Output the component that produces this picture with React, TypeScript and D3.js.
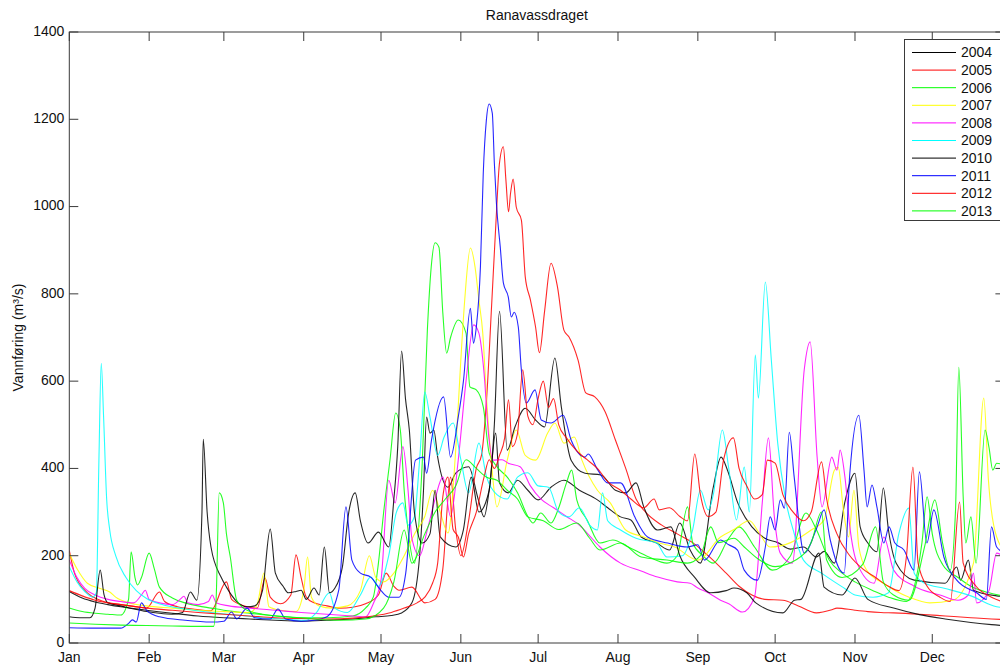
import React from 'react';
import * as d3 from 'd3';

const years = ['2004', '2005', '2006', '2007', '2008', '2009', '2010', '2011', '2012', '2013'];
const colors = ['#000000', '#ff0000', '#00ff00', '#ffff00', '#ff00ff', '#00ffff', '#000000', '#0000ff', '#ff0000', '#00ff00'];
const monthLabels = ['Jan', 'Feb', 'Mar', 'Apr', 'May', 'Jun', 'Jul', 'Aug', 'Sep', 'Oct', 'Nov', 'Dec'];
const monthStartDays = [0, 31, 60, 91, 121, 152, 182, 213, 244, 274, 305, 335];
const yTicks = [0, 200, 400, 600, 800, 1000, 1200, 1400];

// [day of year, discharge m3/s]
const q2004: [number, number][] = [
  [0, 118], [5, 103], [10, 94], [15, 88], [20, 83], [25, 79], [30, 75], [40, 68], [50, 62], [60, 58], [70, 55], [80, 52], [90, 50],
  [100, 52], [110, 55], [119, 60], [125, 63], [129, 69], [133, 92], [136, 200], [137.5, 350], [138.7, 518], [140, 481], [141.5, 488],
  [143, 426], [147, 357], [150, 389], [155, 404], [158.8, 328], [161, 289], [163, 350], [165.5, 481], [167, 367], [170.4, 344],
  [174, 373], [178, 350], [182, 328], [187, 357], [192, 373], [198, 350], [205, 328], [209, 310], [214, 289], [218, 282], [222, 243],
  [228, 229], [233, 213], [237, 275], [241, 213], [245, 183], [250, 357], [253, 426], [255.5, 396], [259.5, 321], [265, 266],
  [270, 240], [275, 230], [280, 215], [285, 220], [290, 197], [293, 210], [297, 183], [301, 321], [305, 389], [307, 266], [310, 229],
  [313.5, 209], [316, 355], [318, 259], [321, 183], [328, 144], [340, 137], [344.5, 174], [346, 144], [349, 190], [351, 121],
  [360, 108], [365, 105],
];
const q2005: [number, number][] = [
  [0, 212], [2, 160], [4, 135], [7, 115], [11, 100], [15, 92], [20, 88], [25, 84], [30, 80], [35, 117], [37, 95], [42, 83], [48, 78],
  [55, 74], [61, 140], [63, 100], [68, 85], [73, 80], [76, 149], [78, 105], [82, 90], [86, 110], [88, 202], [90, 150], [92, 105],
  [95, 92], [100, 85], [105, 80], [110, 82], [115, 90], [120, 110], [123, 160], [126, 130], [128, 121], [133, 128], [138, 92],
  [142, 100], [145, 170], [148, 380], [150, 260], [152, 200], [155, 280], [158, 400], [160, 430], [162, 560], [164, 780], [165.5, 950],
  [167, 1100], [168.5, 1137], [169.5, 1060], [170.5, 988], [171.3, 1031], [172.3, 1063], [173.5, 999], [175.5, 969], [177, 839],
  [179, 786], [181, 724], [182.5, 665], [184.5, 760], [187, 870], [189.5, 816], [192, 717], [194, 701], [197.5, 648], [200.5, 573],
  [204, 564], [208, 530], [212, 465], [216, 400], [220, 330], [224, 298], [230, 270], [236, 250], [242, 230], [248, 200], [255, 160],
  [260, 130], [265, 110], [270, 100], [277, 98], [283, 85], [290, 69], [296, 76], [298, 80], [305, 75], [310, 72], [315, 70],
  [320, 69], [330, 66], [340, 62], [350, 58], [358, 55], [365, 53],
];
const q2006: [number, number][] = [
  [0, 80], [5, 72], [10, 68], [15, 66], [20, 64], [23, 100], [24, 209], [25.5, 150], [26.5, 133], [28, 150], [31, 206], [33, 170],
  [35, 128], [40, 103], [45, 92], [50, 85], [55, 80], [60, 75], [70, 68], [80, 62], [90, 58], [100, 58], [110, 62], [115, 80],
  [118, 105], [120, 183], [122, 298], [124.5, 420], [126.7, 527], [128.5, 488], [130, 350], [131.5, 259], [134, 183], [137, 412],
  [139, 717], [140.5, 862], [142, 917], [143.5, 907], [145, 756], [146.5, 664], [148, 700], [151, 740], [154, 710], [155.5, 587],
  [158, 580], [160.7, 541], [163, 435], [166, 404], [170, 380], [174, 344], [178, 290], [180, 275], [183, 298], [187, 275], [190, 310],
  [193, 367], [195, 396], [197, 328], [201, 282], [206, 229], [211, 236], [217, 220], [225, 197], [232, 183], [236, 200], [240, 312],
  [242, 229], [246, 200], [250, 183], [256, 240], [260, 266], [266, 220], [273, 167], [280, 200], [286, 298], [290, 260], [295, 190],
  [300, 160], [305, 140], [312, 120], [318, 105], [325, 95], [331, 230], [333, 335], [335, 250], [339, 180], [345, 150], [350, 130],
  [357, 115], [365, 105],
];
const q2007: [number, number][] = [
  [0, 205], [3, 170], [7, 137], [12, 125], [15.7, 117], [18, 105], [23, 92], [30, 85], [40, 80], [50, 75], [60, 72], [70, 70],
  [73, 90], [75.6, 160], [77.5, 83], [82, 75], [88, 72], [91, 120], [92.5, 197], [94, 105], [97, 85], [102, 80], [108, 85], [113, 120],
  [116.5, 200], [119, 150], [122, 140], [126, 160], [130, 200], [134, 250], [138, 290], [141, 350], [144, 300], [147, 252], [150, 442],
  [152, 650], [153.5, 786], [155.7, 905], [157.5, 862], [159, 786], [160.5, 710], [162, 557], [164, 404], [166, 312], [170, 419],
  [173.5, 488], [177, 430], [181, 419], [185.7, 481], [188.5, 504], [192, 458], [196, 472], [199, 419], [205, 350], [210, 321],
  [216, 259], [223, 243], [229, 229], [235, 220], [244, 190], [252.8, 243], [258, 260], [264, 280], [268, 250], [272, 220], [280, 230],
  [288, 259], [293, 282], [297, 396], [298.5, 403], [300.5, 305], [302.5, 243], [304.6, 350], [306.5, 220], [309.5, 167], [316, 137],
  [326, 105], [334, 92], [343, 98], [351, 183], [355, 561], [356.8, 373], [360, 243], [365, 200],
];
const q2008: [number, number][] = [
  [0, 190], [3, 150], [6, 125], [10, 110], [15, 100], [20, 95], [25, 92], [28, 110], [29.5, 121], [31, 100], [35, 92], [40, 88],
  [43, 100], [44.5, 107], [46, 92], [50, 88], [54, 95], [55.5, 110], [57, 92], [62, 85], [70, 80], [80, 75], [90, 70], [100, 66],
  [110, 62], [115, 60], [118, 90], [121, 144], [124, 373], [126.5, 321], [129.5, 450], [131.5, 350], [133, 240], [136, 200], [139, 260],
  [142, 330], [145, 380], [148, 290], [151, 420], [154, 600], [157, 729], [159, 710], [161, 619], [162.7, 481], [164.5, 419], [168, 420],
  [170.4, 412], [175, 404], [179, 360], [183, 330], [188, 310], [193, 290], [198, 270], [201, 252], [206, 220], [214, 183], [222, 165],
  [228.4, 151], [236, 140], [241, 137], [244, 126], [248, 115], [252.8, 98], [256, 90], [261.3, 71], [266, 105], [269, 321],
  [271.4, 470], [273.7, 289], [276, 206], [280.7, 183], [285.3, 626], [287.6, 690], [290.3, 426], [292.2, 312], [296, 426], [298, 396],
  [299.2, 442], [301.1, 380], [303, 266], [305.8, 183], [312.4, 137], [316.2, 243], [320, 167], [328, 130], [338, 110], [345, 98],
  [349, 110], [351, 160], [352.2, 92], [357, 120], [360, 206], [365, 180],
];
const q2009: [number, number][] = [
  [0, 175], [3, 140], [6, 118], [9, 105], [10.5, 115], [11.5, 420], [12.4, 641], [13.3, 520], [14.5, 330], [15.7, 259], [18, 200],
  [22, 150], [26, 120], [30, 102], [36, 88], [45, 78], [55, 70], [65, 64], [75, 58], [85, 54], [92, 52], [96, 70], [101, 115],
  [103, 80], [108, 70], [113, 110], [117, 151], [120, 130], [124, 200], [127, 300], [129.5, 321], [131.5, 270], [134, 290], [136, 420],
  [138, 575], [140, 518], [143, 430], [145.5, 472], [149, 504], [152, 420], [155, 344], [159, 458], [162, 380], [166, 340], [170, 330],
  [174, 380], [178, 390], [182, 360], [186, 357], [190, 300], [194, 289], [198, 310], [202, 270], [205, 259], [207, 344], [209, 280],
  [214, 259], [220, 240], [228, 229], [232, 197], [238, 200], [242, 260], [245, 350], [248, 305], [250, 340], [253.5, 488], [256, 400],
  [259, 282], [262, 403], [264, 300], [266.3, 660], [267.5, 561], [270.2, 827], [272.5, 650], [275, 458], [278, 330], [281, 259],
  [285, 190], [292, 160], [296, 144], [301, 125], [305, 110], [312, 105], [318, 115], [322, 250], [325.9, 309], [328, 160], [332, 137],
  [340, 125], [350, 108], [360, 83], [365, 80],
];
const q2010: [number, number][] = [
  [0, 60], [4, 58], [8, 58], [10, 80], [12, 167], [13.5, 110], [15, 92], [20, 85], [25, 78], [30, 72], [35, 68], [40, 66], [44, 70],
  [47, 117], [49.5, 98], [51.5, 300], [52, 467], [53.5, 300], [55, 220], [59, 150], [61, 128], [65, 95], [69, 83], [72, 85], [75, 120],
  [78, 261], [80, 160], [83, 130], [85, 115], [88, 118], [90, 121], [92, 100], [95, 126], [97, 110], [99, 220], [101, 115], [103, 125],
  [106, 174], [108.5, 300], [111, 344], [113, 280], [116, 229], [120, 254], [124, 220], [126, 330], [127.5, 450], [129, 669],
  [130.5, 560], [132, 488], [134, 298], [137, 229], [140, 250], [142, 350], [144, 243], [150, 220], [153, 260], [156, 380], [159, 300],
  [163, 350], [165, 500], [167, 760], [170, 442], [173, 495], [177, 538], [181, 511], [184.5, 495], [188.5, 653], [191, 541],
  [194.8, 419], [200.2, 389], [206.4, 385], [212, 350], [216, 344], [220, 367], [223, 312], [228.4, 259], [233.5, 266], [237, 200],
  [242.7, 151], [249, 115], [255, 120], [258, 126], [263, 115], [266.5, 92], [277, 69], [281.5, 98], [284, 100], [291, 206], [293, 128],
  [300, 110], [305, 149], [310, 100], [320, 80], [330, 65], [340, 55], [350, 47], [358, 42], [365, 39],
];
const q2011: [number, number][] = [
  [0, 35], [10, 34], [20, 34], [23, 45], [24.5, 53], [26, 48], [28, 92], [30, 75], [35, 60], [45, 52], [55, 48], [60, 50], [63, 71],
  [65, 55], [69, 80], [72, 58], [78, 55], [81, 78], [84, 55], [90, 50], [95, 52], [100, 60], [104.6, 121], [107.4, 312], [109.7, 190],
  [113, 160], [117, 151], [121, 120], [124, 105], [128, 105], [130.6, 160], [134.4, 419], [137.5, 426], [138.7, 389], [140.6, 465],
  [145.3, 564], [148, 426], [151, 518], [153, 600], [155.7, 767], [156.9, 687], [158, 724], [159.6, 862], [160.7, 1077], [161.9, 1198],
  [163, 1235], [164.2, 1214], [165, 1100], [165.8, 1008], [167.3, 907], [168.5, 825], [170.4, 793], [171.6, 747], [172.7, 758],
  [174.3, 724], [175.4, 632], [177.4, 550], [180.8, 580], [183.2, 511], [187, 504], [191.7, 522], [194.8, 465], [200.2, 426],
  [201.4, 433], [205.2, 396], [209, 367], [214, 367], [219.5, 289], [224.5, 243], [232.3, 229], [240, 220], [244, 225], [246.6, 190],
  [252.8, 236], [256, 225], [259.4, 213], [262, 167], [267.1, 144], [270.2, 220], [272.1, 289], [274, 259], [276, 328], [277.6, 309],
  [279.5, 483], [281.4, 380], [285.3, 206], [290.3, 266], [293, 305], [295.4, 236], [299.2, 167], [300.8, 160], [303, 389],
  [306.5, 522], [308.5, 396], [309.7, 312], [311.6, 362], [313.5, 312], [316.2, 229], [318.2, 266], [320.5, 229], [324, 213],
  [327.9, 167], [330, 392], [332.9, 229], [335.6, 305], [339.5, 197], [344.5, 144], [352.2, 115], [356, 100], [358, 266], [360, 220],
  [365, 200],
];
const q2012: [number, number][] = [
  [0, 120], [5, 108], [10, 98], [20, 88], [30, 80], [40, 75], [50, 70], [60, 66], [70, 62], [80, 58], [90, 56], [100, 55], [110, 57],
  [118, 62], [125, 70], [130, 80], [135, 92], [138, 105], [141, 137], [143, 183], [145, 335], [147, 380], [149, 260], [151, 243],
  [153, 197], [155, 250], [158, 300], [161, 380], [163, 420], [165, 400], [167, 430], [169, 470], [170.5, 557], [172, 450], [174, 480],
  [176, 626], [178, 520], [180, 500], [182, 560], [184, 600], [186, 540], [188, 560], [190, 500], [193, 470], [197, 440], [201, 420],
  [205, 400], [209, 370], [214, 350], [218, 330], [223, 310], [227, 330], [229, 305], [233, 310], [237, 290], [240, 280], [242.8, 433],
  [245, 340], [248, 290], [251, 300], [254, 420], [257.8, 470], [260, 400], [263, 360], [266, 330], [269, 340], [271, 419], [274, 412],
  [277, 340], [281, 300], [285, 280], [288, 300], [292, 415], [294, 330], [298, 250], [303, 200], [308, 170], [313, 150], [318, 130],
  [322, 120], [325, 200], [327.5, 403], [329.5, 183], [333, 130], [338, 105], [342, 95], [345.6, 323], [347, 183], [352, 130],
  [358, 105], [365, 90],
];
const q2013: [number, number][] = [
  [0, 46], [10, 43], [20, 41], [30, 40], [40, 39], [50, 38], [56, 38], [57, 100], [58.2, 344], [59.8, 321], [61, 250], [62.5, 197],
  [65, 98], [69, 75], [75, 66], [85, 60], [95, 55], [105, 52], [115, 55], [122, 80], [126, 140], [130, 259], [133, 183], [138, 250],
  [142, 300], [146, 330], [150, 360], [154, 420], [158, 400], [162, 380], [166, 373], [170, 350], [174, 330], [178, 289], [184, 280],
  [190, 260], [197, 275], [202, 240], [206, 213], [214, 229], [222, 197], [232, 190], [240, 183], [245, 200], [249, 266], [252, 230],
  [258, 240], [262, 220], [268, 190], [274, 175], [282, 190], [288, 230], [292, 300], [294, 190], [300, 150], [308, 180], [313, 266],
  [316, 140], [320, 110], [326, 98], [332, 220], [336, 328], [339, 229], [342, 167], [344, 300], [345.3, 632], [347, 335], [348, 229],
  [350, 289], [352, 183], [355.5, 488], [357, 449], [358.5, 396], [360, 412], [365, 400],
];

const seriesData = [q2004, q2005, q2006, q2007, q2008, q2009, q2010, q2011, q2012, q2013];

const W = 1000;
const H = 666;
const left = 69.3;
const right = 1004.4;
const top = 32;
const bottom = 643;
const FONT = '"Liberation Sans", Arial, Helvetica, sans-serif';
const AX = '#3a3a3a';
const TICK = 9;

export default function App() {
  const x = d3.scaleLinear().domain([0, 363]).range([left, right]);
  const y = d3.scaleLinear().domain([0, 1400]).range([bottom, top]);
  const line = d3
    .line<[number, number]>()
    .x((d) => x(d[0]))
    .y((d) => y(d[1]))
    .curve(d3.curveMonotoneX);

  const legX = 904.5;
  const legY = 39.5;
  const legW = 96;
  const legH = 181;
  const rowY0 = 52.5;
  const rowStep = 17.6;

  return (
    <svg
      width={W}
      height={H}
      style={{ position: 'absolute', left: 0, top: 0, background: '#fff' }}
      fontFamily={FONT}
    >
      <defs>
        <clipPath id="plotclip">
          <rect x={left} y={top} width={right - left} height={bottom - top} />
        </clipPath>
      </defs>
      <rect x={0} y={0} width={W} height={H} fill="#fff" />

      <text x={(left + right) / 2} y={20} textAnchor="middle" fontSize={14} fill="#111">
        Ranavassdraget
      </text>

      <g clipPath="url(#plotclip)">
        {seriesData.map((s, i) => (
          <path
            key={years[i]}
            d={line(s) || ''}
            fill="none"
            stroke={colors[i]}
            strokeWidth={1.1}
            strokeOpacity={0.85}
            strokeLinejoin="round"
          />
        ))}
      </g>

      {/* axes box */}
      <rect x={left} y={top} width={right - left} height={bottom - top} fill="none" stroke={AX} strokeWidth={1} />

      {/* y ticks */}
      {yTicks.map((t) => (
        <g key={'y' + t}>
          <line x1={left} x2={left + TICK} y1={y(t)} y2={y(t)} stroke={AX} />
          <line x1={right - TICK} x2={right} y1={y(t)} y2={y(t)} stroke={AX} />
          <text x={left - 5} y={y(t) - 1} dy="0.35em" textAnchor="end" fontSize={14} fill="#111">
            {t}
          </text>
        </g>
      ))}

      {/* x ticks */}
      {monthStartDays.map((d, i) => (
        <g key={'m' + i}>
          <line x1={x(d)} x2={x(d)} y1={bottom} y2={bottom - TICK} stroke={AX} />
          <line x1={x(d)} x2={x(d)} y1={top} y2={top + TICK} stroke={AX} />
          <text x={x(d)} y={662} textAnchor="middle" fontSize={14} fill="#111">
            {monthLabels[i]}
          </text>
        </g>
      ))}

      <text
        transform={`translate(23,${(top + bottom) / 2}) rotate(-90)`}
        textAnchor="middle"
        fontSize={14}
        fill="#111"
      >
        Vannføring (m³/s)
      </text>

      {/* legend */}
      <rect x={legX} y={legY} width={legW} height={legH} fill="#fff" stroke={AX} strokeWidth={1} />
      {years.map((yr, i) => (
        <g key={'l' + yr}>
          <line x1={912} x2={956} y1={rowY0 + i * rowStep} y2={rowY0 + i * rowStep} stroke={colors[i]} strokeWidth={1} />
          <text x={961} y={rowY0 + i * rowStep} dy="0.35em" fontSize={14} fill="#111">
            {yr}
          </text>
        </g>
      ))}
    </svg>
  );
}
